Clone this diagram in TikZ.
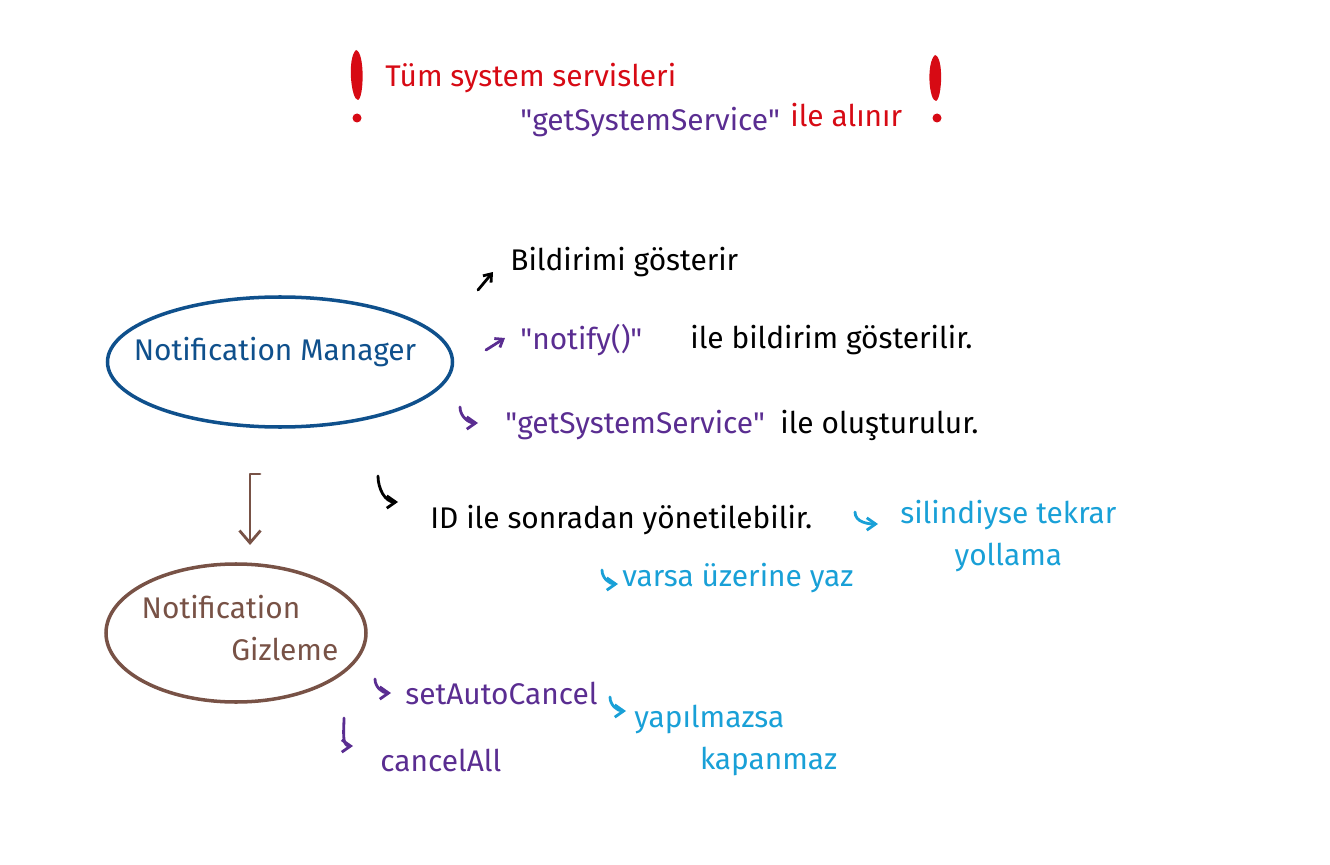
\documentclass[tikz,border=0pt]{standalone}
\usepackage{fontspec}
\setmainfont{Fira Sans}
\usetikzlibrary{arrows.meta,shapes.geometric}
\definecolor{inkred}{RGB}{215,10,20}
\definecolor{inkpurple}{RGB}{90,45,145}
\definecolor{inkblue}{RGB}{15,80,140}
\definecolor{inkbrown}{RGB}{120,82,70}
\definecolor{inkcyan}{RGB}{25,160,215}
\tikzset{
  hand/.style={font=\fontsize{17}{24}\selectfont,inner sep=0pt,anchor=west},
  pen/.style={line width=1.6pt,line cap=round,line join=round},
  hook/.style={pen,-{Straight Barb[length=5pt,width=7pt]}},
  bubble/.style={draw,ellipse,line width=2pt,inner sep=0pt}
}
\begin{document}
\begin{tikzpicture}[x=0.02cm,y=-0.02cm]
  \useasboundingbox (0,0) rectangle (1330,865);
  % title
  \node[hand,inkred] (tum) at (385,78) {Tüm system servisleri};
  \node[hand,inkpurple] (gss1) at (520,122) {\textquotedbl getSystemService\textquotedbl};
  \node[hand,inkred] (alinir) at (790,115) {ile alınır};
  \coordinate (bang1) at (356,50); \coordinate (bang2) at (935,55);
  \fill[inkred] (bang1) .. controls +(9,2) and +(6,-2) .. ++(2,50) .. controls +(-7,0) and +(-9,8) .. cycle;
  \fill[inkred] ([shift={(1,68)}]bang1) circle (4.5);
  \fill[inkred] (bang2) .. controls +(9,2) and +(6,-2) .. ++(1,46) .. controls +(-7,0) and +(-9,8) .. cycle;
  \fill[inkred] ([shift={(2,63)}]bang2) circle (4.5);
  % manager
  \node[bubble,inkblue,minimum width=345*0.02cm,minimum height=130*0.02cm] (nm) at (280,362) {};
  \node[hand,inkblue,anchor=center] (nmt) at (275,352) {Notification Manager};
  \node[hand] (bg) at (510,262) {Bildirimi gösterir};
  \node[hand,inkpurple] (notify) at (520,340) {\textquotedbl notify()\textquotedbl};
  \node[hand] (bgl) at (690,340) {ile bildirim gösterilir.};
  \node[hand,inkpurple] (gss2) at (505,425) {\textquotedbl getSystemService\textquotedbl};
  \node[hand] (olus) at (780,425) {ile oluşturulur.};
  \node[hand] (id) at (430,520) {ID ile sonradan yönetilebilir.};
  \node[hand,inkcyan] (varsa) at (622,578) {varsa üzerine yaz};
  \node[hand,inkcyan,align=center,anchor=north west] (silin) at (900,500) {silindiyse tekrar\\yollama};
  \draw[pen,-{Straight Barb[length=4pt,width=6pt]}] ([shift={(-32,28)}]bg.west) -- ([shift={(-17,10)}]bg.west);
  \draw[pen,inkpurple,-{Straight Barb[length=4pt,width=6pt]}] ([shift={(-34,10)}]notify.west) -- ([shift={(-15,-2)}]notify.west);
  \draw[hook,inkpurple] ([shift={(-45,-18)}]gss2.west) to[out=-90,in=180] ([shift={(-27,-2)}]gss2.west);
  \draw[hook] ([shift={(-52,-44)}]id.west) to[out=-90,in=180] ([shift={(-32,-18)}]id.west);
  \draw[hook,inkcyan] ([shift={(-20,-8)}]varsa.west) to[out=-90,in=180] ([shift={(-4,6)}]varsa.west);
  \draw[hook,inkcyan] ([shift={(-45,12)}]silin.north west) to[out=-90,in=180] ([shift={(-22,24)}]silin.north west);
  % gizleme
  \coordinate (dn1) at (260,474); \coordinate (dn2) at (250,545);
  \draw[pen,inkbrown,-{Straight Barb[length=7pt,width=12pt]}] (dn1) -- (dn1 -| dn2) -- (dn2);
  \node[bubble,inkbrown,minimum width=260*0.02cm,minimum height=138*0.02cm] (ng) at (236,633) {};
  \node[hand,inkbrown,align=left,anchor=center] (ngt) at (240,628) {Notification\\\hspace*{3em}Gizleme};
  \node[hand,inkpurple] (auto) at (405,693) {setAutoCancel};
  \node[hand,inkpurple] (all) at (380,760) {cancelAll};
  \node[hand,inkcyan,align=left,anchor=north west] (yap) at (634,705) {yapılmazsa\\\hspace*{2.2em}kapanmaz};
  \draw[hook,inkpurple] ([shift={(-30,-14)}]auto.west) to[out=-90,in=180] ([shift={(-14,0)}]auto.west);
  \draw[hook,inkpurple] ([shift={(-36,-42)}]all.west) to[out=-90,in=180] ([shift={(-27,-14)}]all.west);
  \draw[hook,inkcyan] ([shift={(-24,-8)}]yap.north west) to[out=-90,in=180] ([shift={(-8,6)}]yap.north west);
\end{tikzpicture}
\end{document}
